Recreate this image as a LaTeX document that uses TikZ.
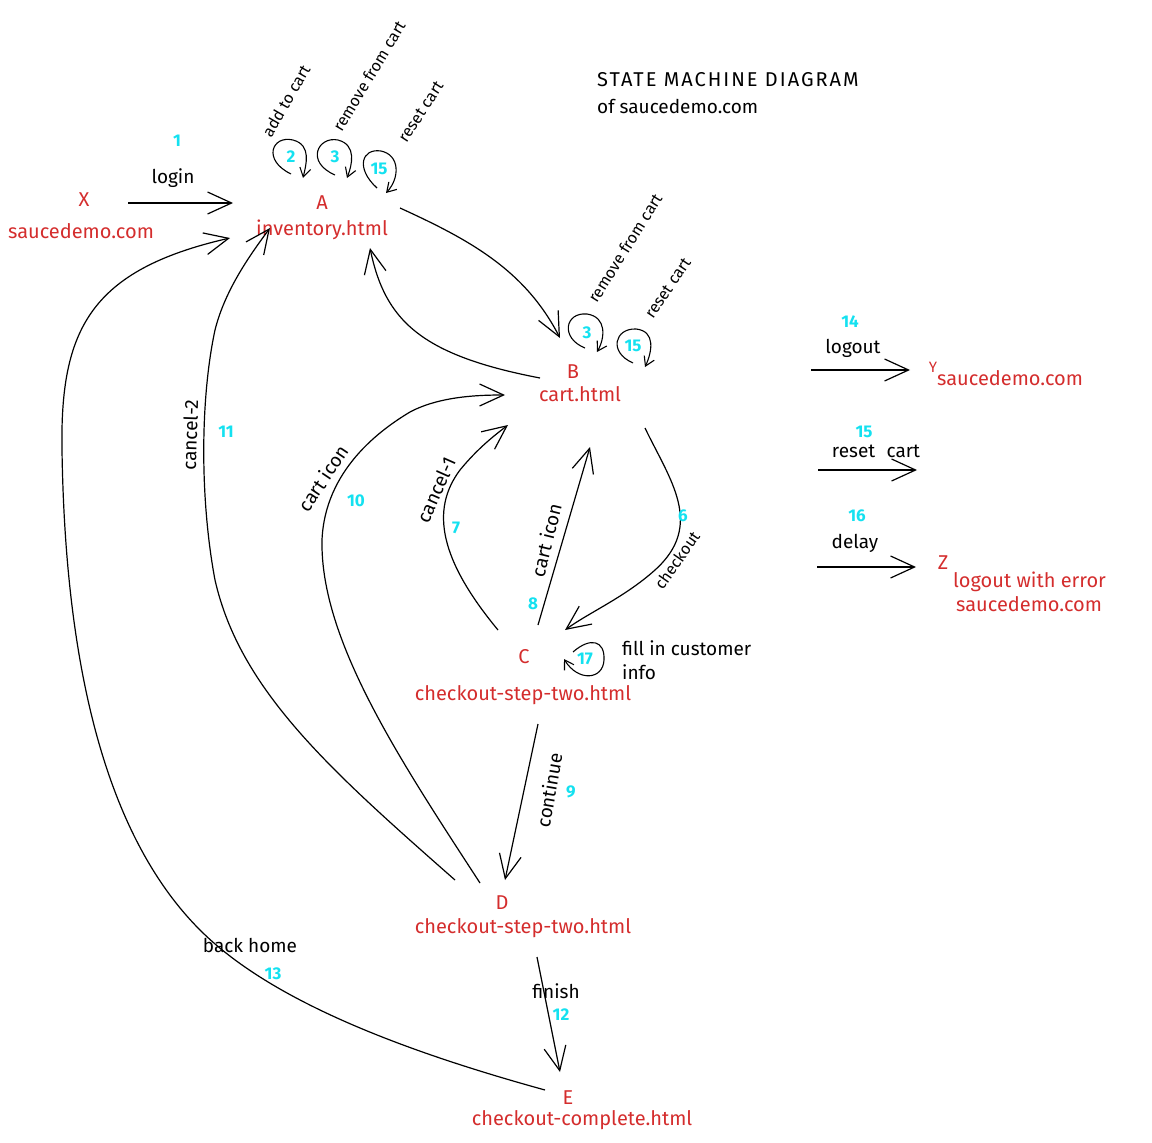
\documentclass[tikz,border=0pt]{standalone}
\usepackage{fontspec}
\setmainfont{Fira Sans}
\usetikzlibrary{arrows.meta}
\definecolor{stred}{RGB}{212,45,45}
\definecolor{stcyan}{RGB}{20,225,240}
\begin{document}
\begin{tikzpicture}[x=1pt,y=-1pt,
  redtxt/.style={text=stred,font=\fontsize{20}{22}\selectfont,inner sep=0pt},
  lbl/.style={font=\fontsize{19}{21}\selectfont,inner sep=0pt},
  smalllbl/.style={font=\fontsize{16}{18}\selectfont,inner sep=0pt},
  num/.style={text=stcyan,font=\fontsize{17}{19}\selectfont\bfseries,inner sep=0pt},
  edge/.style={line width=1.2pt,-{Straight Barb[length=24pt,width=22pt,line width=1.2pt]}},
  loopedge/.style={line width=1.1pt,-{Straight Barb[length=9pt,width=11pt,line width=1.1pt]}},
]
\useasboundingbox (0,0) rectangle (1152,1143);

% title
\node[lbl,anchor=west,font=\fontsize{20}{22}\selectfont\addfontfeatures{LetterSpace=10}] (title) at (597,80) {STATE MACHINE DIAGRAM};
\node[lbl,anchor=west] (subtitle) at (597,106) {of saucedemo.com};

% states
\node[redtxt] (xl) at (84,200) {X};
\node[redtxt] (xs) at (81,231) {saucedemo.com};
\node[redtxt] (al) at (322,203) {A};
\node[redtxt] (as) at (322,230) {inventory.html};
\node[redtxt] (bl) at (573,372) {B};
\node[redtxt] (bs) at (580,394) {cart.html};
\node[redtxt] (cl) at (524,657) {C};
\node[redtxt] (cs) at (523,695) {checkout-step-two.html};
\node[redtxt] (dl) at (502,903) {D};
\node[redtxt] (ds) at (523,928) {checkout-step-two.html};
\node[redtxt] (el) at (568,1098) {E};
\node[redtxt] (es) at (582,1120) {checkout-complete.html};
\node[redtxt,font=\fontsize{15}{16}\selectfont] (yl) at (933,367) {Y};
\node[redtxt,anchor=west] (ys) at (937,378) {saucedemo.com};
\node[redtxt] (zl) at (943,563) {Z};
\node[redtxt,anchor=west] (zs1) at (953,582) {logout with error};
\node[redtxt,anchor=west] (zs2) at (956,604) {saucedemo.com};

% connector end points
\coordinate (x-out) at (128,203);
\coordinate (a-in1) at (233,203);
\coordinate (a-out1) at (400,208);
\coordinate (b-in1) at (560,338);
\coordinate (b-out1) at (540,378);
\coordinate (a-in2) at (370,248);
\coordinate (b-out2) at (645,428);
\coordinate (c-in1) at (565,630);
\coordinate (c-out1) at (498,630);
\coordinate (b-in2) at (508,425);
\coordinate (c-out2) at (538,625);
\coordinate (b-in3) at (590,447);
\coordinate (d-out1) at (480,883);
\coordinate (b-in4) at (505,395);
\coordinate (d-out2) at (455,880);
\coordinate (a-in3) at (270,228);
\coordinate (c-out3) at (538,724);
\coordinate (d-in1) at (505,880);
\coordinate (d-out3) at (537,957);
\coordinate (e-in1) at (560,1072);
\coordinate (e-out1) at (545,1090);
\coordinate (a-in4) at (230,238);
\coordinate (r1s) at (811,370);
\coordinate (r1e) at (910,370);
\coordinate (r2s) at (818,470);
\coordinate (r2e) at (917,470);
\coordinate (r3s) at (817,567);
\coordinate (r3e) at (916,567);

% edges
\draw[edge] (x-out) -- (a-in1);
\draw[edge] (a-out1) .. controls (470,240) and (525,270) .. (b-in1);
\draw[edge] (b-out1) .. controls (420,355) and (385,320) .. (a-in2);
\draw[edge] (b-out2) .. controls (670,480) and (705,525) .. (655,570) .. controls (625,597) and (590,612) .. (c-in1);
\draw[edge] (c-out1) .. controls (440,560) and (430,510) .. (460,470) .. controls (478,448) and (495,435) .. (b-in2);
\draw[edge] (c-out2) -- (b-in3);
\draw[edge] (d-out1) .. controls (400,760) and (320,640) .. (322,540) .. controls (325,470) and (380,430) .. (410,412) .. controls (440,396) and (480,395) .. (b-in4);
\draw[edge] (d-out2) .. controls (330,770) and (240,690) .. (215,580) .. controls (200,500) and (200,400) .. (215,330) .. controls (225,290) and (250,255) .. (a-in3);
\draw[edge] (c-out3) -- (d-in1);
\draw[edge] (d-out3) -- (e-in1);
\draw[edge] (e-out1) .. controls (400,1050) and (270,1000) .. (200,930) .. controls (100,830) and (65,650) .. (62,450) .. controls (60,330) and (90,270) .. (a-in4);
\draw[edge] (r1s) -- (r1e);
\draw[edge] (r2s) -- (r2e);
\draw[edge] (r3s) -- (r3e);

% self loops
\coordinate (la2s) at (291,174); \coordinate (la2e) at (303,178);
\draw[loopedge] (la2s) .. controls (262,160) and (272,135) .. (293,140) .. controls (312,145) and (306,165) .. (la2e);
\coordinate (la3s) at (335,175); \coordinate (la3e) at (347,178);
\draw[loopedge] (la3s) .. controls (305,162) and (318,136) .. (338,140) .. controls (357,145) and (352,165) .. (la3e);
\coordinate (la15s) at (377,188); \coordinate (la15e) at (386,193);
\draw[loopedge] (la15s) .. controls (355,168) and (362,148) .. (381,151) .. controls (400,155) and (400,178) .. (la15e);
\coordinate (lb3s) at (585,348); \coordinate (lb3e) at (597,352);
\draw[loopedge] (lb3s) .. controls (560,338) and (565,312) .. (587,314) .. controls (607,317) and (605,338) .. (lb3e);
\coordinate (lb15s) at (633,363); \coordinate (lb15e) at (645,367);
\draw[loopedge] (lb15s) .. controls (608,352) and (615,328) .. (636,329) .. controls (656,331) and (652,352) .. (lb15e);
\coordinate (lc17s) at (573,652); \coordinate (lc17e) at (564,659);
\draw[loopedge] (lc17s) .. controls (590,637) and (605,640) .. (604,660) .. controls (603,680) and (578,682) .. (lc17e);

% labels
\node[num] (n1) at (177,141) {1};
\node[lbl] (t1) at (173,178) {login};
\node[num] (n2) at (291,157) {2};
\node[num] (n3a) at (335,157) {3};
\node[num] (n15a) at (379,169) {15};
\node[smalllbl,rotate=60] (t2) at (286,101) {add to cart};
\node[smalllbl,rotate=59] (t3a) at (369,76) {remove from cart};
\node[smalllbl,rotate=57] (t15a) at (421,112) {reset cart};
\node[num] (n3b) at (587,333) {3};
\node[num] (n15b) at (633,346) {15};
\node[smalllbl,rotate=58] (t3b) at (625,248) {remove from cart};
\node[smalllbl,rotate=56] (t15b) at (668,288) {reset cart};
\node[num] (n14) at (850,322) {14};
\node[lbl] (t14) at (853,348) {logout};
\node[num] (n15c) at (864,432) {15};
\node[lbl] (t15c) at (876,451) {reset\hspace{0.6em}cart};
\node[num] (n16) at (857,516) {16};
\node[lbl] (t16) at (855,543) {delay};
\node[num] (n6) at (683,516) {6};
\node[smalllbl,rotate=55] (t6) at (677,560) {checkout};
\node[num] (n7) at (456,528) {7};
\node[lbl,rotate=66] (t7) at (436,490) {cancel-1};
\node[num] (n8) at (533,604) {8};
\node[lbl,rotate=76] (t8) at (546,540) {cart icon};
\node[num] (n10) at (356,501) {10};
\node[lbl,rotate=56] (t10) at (323,478) {cart icon};
\node[num] (n11) at (226,432) {11};
\node[lbl,rotate=88] (t11) at (190,435) {cancel-2};
\node[num] (n9) at (571,792) {9};
\node[lbl,rotate=80] (t9) at (549,790) {continue};
\node[num] (n12) at (561,1015) {12};
\node[lbl] (t12) at (556,991) {finish};
\node[num] (n13) at (273,974) {13};
\node[lbl] (t13) at (250,945) {back home};
\node[num] (n17) at (585,659) {17};
\node[lbl,anchor=west] (t17a) at (622,648) {fill in customer};
\node[lbl,anchor=west] (t17b) at (622,672) {info};
\end{tikzpicture}
\end{document}
